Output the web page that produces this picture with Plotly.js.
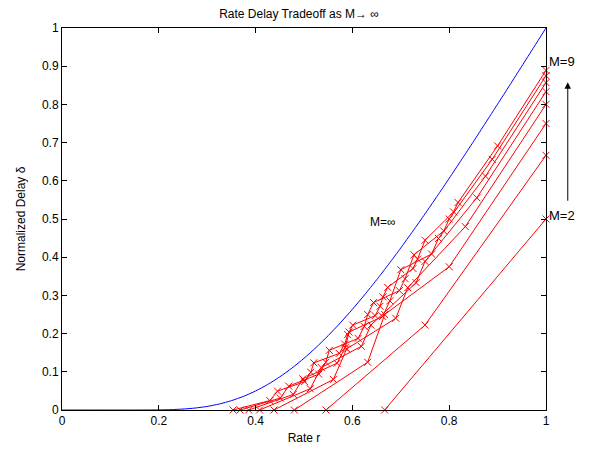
<!DOCTYPE html>
<html>
<head>
<meta charset="utf-8">
<script src="https://cdn.plot.ly/plotly-3.0.1.min.js"></script>
<style>html,body{margin:0;padding:0;background:#fff;} #chart{width:598px;height:453px;}</style>
</head>
<body>
<div id="chart"></div>
<script>
// Limit curve M -> infinity
const rInf = [0, 0.05, 0.1, 0.15, 0.2, 0.225, 0.25, 0.275, 0.3, 0.325, 0.35, 0.375, 0.4, 0.425, 0.45, 0.475, 0.5, 0.525, 0.55, 0.575, 0.6, 0.625, 0.65, 0.675, 0.7, 0.725, 0.75, 0.775, 0.8, 0.825, 0.85, 0.875, 0.9, 0.925, 0.95, 0.975, 1];
const dInf = [0, 0, 0, 0, 0.0003, 0.001, 0.0025, 0.0051, 0.0094, 0.0157, 0.0244, 0.0357, 0.0498, 0.0668, 0.0868, 0.1096, 0.1353, 0.1638, 0.1947, 0.2280, 0.2636, 0.3012, 0.3407, 0.3818, 0.4244, 0.4683, 0.5134, 0.5596, 0.6065, 0.6543, 0.7026, 0.7515, 0.8007, 0.8503, 0.9001, 0.95, 1];

// Finite-M curves (rate r, delay delta)
const rM2 = [0.6667, 1];
const dM2 = [0, 0.5];
const rM3 = [0.5455, 0.75, 1];
const dM3 = [0, 0.2222, 0.6667];
const rM4 = [0.48, 0.6316, 0.6667, 0.8, 1];
const dM4 = [0, 0.125, 0.25, 0.375, 0.75];
const rM5 = [0.438, 0.5607, 0.5882, 0.6897, 0.7143, 0.8333, 1];
const dM5 = [0, 0.08, 0.16, 0.24, 0.32, 0.48, 0.8];
const rM6 = [0.4082, 0.5128, 0.5357, 0.6186, 0.6383, 0.7317, 0.75, 0.8571, 1];
const dM6 = [0, 0.0556, 0.1111, 0.1667, 0.2222, 0.3333, 0.3889, 0.5556, 0.8333];
const rM7 = [0.3857, 0.4778, 0.4976, 0.5683, 0.585, 0.5932, 0.6625, 0.6774, 0.7, 0.7636, 0.7778, 0.875, 1];
const dM7 = [0, 0.0408, 0.0816, 0.1224, 0.1633, 0.2041, 0.2449, 0.2857, 0.3673, 0.4082, 0.449, 0.6122, 0.8571];
const rM8 = [0.3679, 0.4509, 0.4685, 0.5306, 0.5451, 0.5523, 0.6118, 0.6245, 0.6316, 0.6437, 0.6971, 0.7089, 0.7273, 0.7887, 0.8, 0.8889, 1];
const dM8 = [0, 0.03125, 0.0625, 0.09375, 0.125, 0.15625, 0.1875, 0.21875, 0.25, 0.28125, 0.3125, 0.34375, 0.40625, 0.46875, 0.5, 0.65625, 0.875];
const rM9 = [0.3535, 0.4294, 0.4453, 0.5011, 0.514, 0.5203, 0.5729, 0.584, 0.5902, 0.6007, 0.647, 0.6571, 0.6632, 0.6729, 0.7252, 0.7347, 0.75, 0.809, 0.8182, 0.9, 1];
const dM9 = [0, 0.0247, 0.0494, 0.0741, 0.0988, 0.1235, 0.1481, 0.1728, 0.1975, 0.2222, 0.2469, 0.2716, 0.2963, 0.321, 0.3704, 0.395, 0.4444, 0.5185, 0.5432, 0.6914, 0.8889];

const xTicks = [0, 0.2, 0.4, 0.6, 0.8, 1];
const xTickText = ['0', '0.2', '0.4', '0.6', '0.8', '1'];
const yTicks = [0, 0.1, 0.2, 0.3, 0.4, 0.5, 0.6, 0.7, 0.8, 0.9, 1];
const yTickText = ['0', '0.1', '0.2', '0.3', '0.4', '0.5', '0.6', '0.7', '0.8', '0.9', '1'];

const redSeries = [[rM2, dM2], [rM3, dM3], [rM4, dM4], [rM5, dM5], [rM6, dM6], [rM7, dM7], [rM8, dM8], [rM9, dM9]];

const FONT = 'Arial, "Liberation Sans", Helvetica, sans-serif';

const traces = [{
  x: rInf, y: dInf, type: 'scatter', mode: 'lines',
  line: {color: '#0000ff', width: 1, shape: 'spline', smoothing: 0.6},
  cliponaxis: false, hoverinfo: 'skip'
}];
redSeries.forEach(function (s) {
  traces.push({
    x: s[0], y: s[1], type: 'scatter', mode: 'lines+markers',
    line: {color: '#ff0000', width: 1},
    marker: {symbol: 'x-thin-open', size: 7, color: '#ff0000', line: {color: '#ff0000', width: 1}},
    cliponaxis: false, hoverinfo: 'skip'
  });
});

const axisCommon = {
  showgrid: false, zeroline: false, showline: true, linecolor: '#000', linewidth: 1,
  mirror: 'ticks', ticks: 'inside', ticklen: 5, tickwidth: 1, tickcolor: '#000',
  tickfont: {family: FONT, size: 12, color: '#000'}, fixedrange: true
};

const layout = {
  width: 598, height: 453,
  margin: {l: 62, r: 52, t: 28, b: 43, pad: 0},
  paper_bgcolor: '#fff', plot_bgcolor: '#fff',
  showlegend: false,
  title: {text: 'Rate Delay Tradeoff as M\u2192 \u221e', font: {family: FONT, size: 12, color: '#000'}, x: 0.5, xanchor: 'center', y: 0.97, yanchor: 'middle', yref: 'container'},
  xaxis: Object.assign({}, axisCommon, {
    range: [0, 1], tickvals: xTicks, ticktext: xTickText,
    title: {text: 'Rate r', font: {family: FONT, size: 12, color: '#000'}, standoff: 6}
  }),
  yaxis: Object.assign({}, axisCommon, {
    range: [0, 1], tickvals: yTicks, ticktext: yTickText,
    title: {text: 'Normalized Delay \u03b4', font: {family: FONT, size: 12, color: '#000'}, standoff: 13}
  }),
  annotations: [
    {x: 0.663, y: 0.492, xref: 'paper', yref: 'paper', text: 'M=\u221e', showarrow: false, font: {family: FONT, size: 12, color: '#000'}, xanchor: 'center', yanchor: 'middle'},
    {x: 1.003, y: 0.509, xref: 'paper', yref: 'paper', text: 'M=2', showarrow: false, font: {family: FONT, size: 13, color: '#000'}, xanchor: 'left', yanchor: 'middle'},
    {x: 1.003, y: 0.912, xref: 'paper', yref: 'paper', text: 'M=9', showarrow: false, font: {family: FONT, size: 13, color: '#000'}, xanchor: 'left', yanchor: 'middle'},
    {x: 1.045, y: 0.858, xref: 'paper', yref: 'paper', ax: 0, ay: 120, axref: 'pixel', ayref: 'pixel', text: '', showarrow: true, arrowhead: 2, arrowsize: 1.3, arrowwidth: 1, arrowcolor: '#000'}
  ]
};

Plotly.newPlot('chart', traces, layout, {staticPlot: true, displayModeBar: false});
</script>
</body>
</html>
